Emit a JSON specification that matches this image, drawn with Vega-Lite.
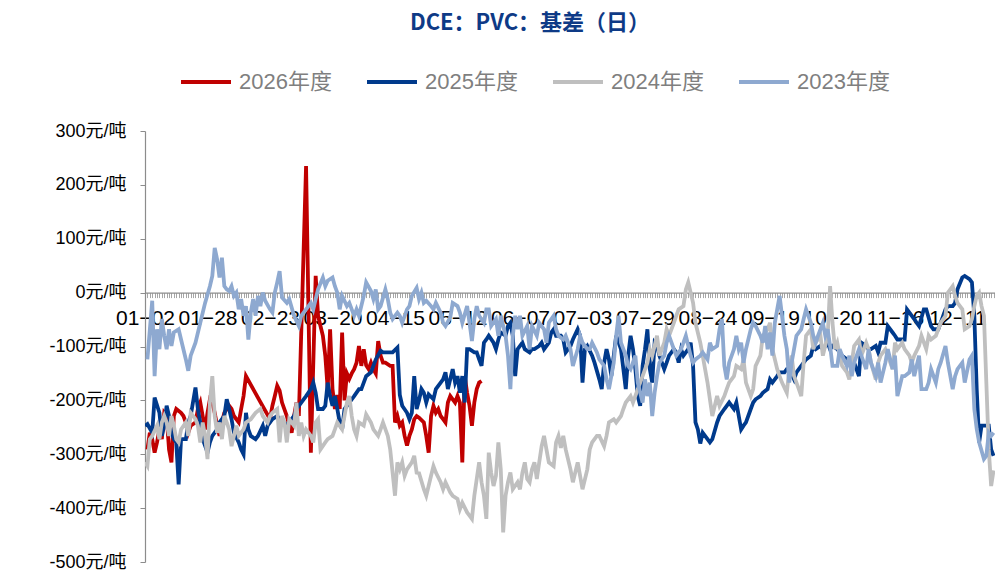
{
"$schema":"https://vega.github.io/schema/vega-lite/v6.json",
"width":850,"height":431,
"autosize":{"type":"none"},
"padding":{"left":145,"top":131,"right":0,"bottom":11},
"background":"white",
"title":{"text":"DCE：PVC：基差（日）","color":"#0E3A86","fontSize":22,"font":"Noto Sans CJK SC","fontWeight":"bold","anchor":"middle","frame":"group","dx":-40,"offset":20},
"config":{"view":{"stroke":null},"font":"Liberation Sans, Noto Sans CJK SC"},
"data":{"values":[
{"s":"2026年度","i":1,"v":-291},{"s":"2026年度","i":2,"v":-260},{"s":"2026年度","i":3,"v":-272},{"s":"2026年度","i":4,"v":-297},{"s":"2026年度","i":5,"v":-278},{"s":"2026年度","i":6,"v":-254},{"s":"2026年度","i":7,"v":-272},{"s":"2026年度","i":8,"v":-223},{"s":"2026年度","i":9,"v":-229},{"s":"2026年度","i":10,"v":-291},{"s":"2026年度","i":11,"v":-315},{"s":"2026年度","i":12,"v":-229},{"s":"2026年度","i":13,"v":-216},{"s":"2026年度","i":15,"v":-223},{"s":"2026年度","i":16,"v":-229},{"s":"2026年度","i":17,"v":-241},{"s":"2026年度","i":18,"v":-260},{"s":"2026年度","i":19,"v":-247},{"s":"2026年度","i":21,"v":-241},{"s":"2026年度","i":22,"v":-216},{"s":"2026年度","i":23,"v":-204},{"s":"2026年度","i":24,"v":-229},{"s":"2026年度","i":25,"v":-254},{"s":"2026年度","i":26,"v":-223},{"s":"2026年度","i":27,"v":-198},{"s":"2026年度","i":28,"v":-204},{"s":"2026年度","i":29,"v":-223},{"s":"2026年度","i":30,"v":-247},{"s":"2026年度","i":31,"v":-266},{"s":"2026年度","i":32,"v":-241},{"s":"2026年度","i":33,"v":-223},{"s":"2026年度","i":35,"v":-210},{"s":"2026年度","i":36,"v":-216},{"s":"2026年度","i":37,"v":-229},{"s":"2026年度","i":39,"v":-241},{"s":"2026年度","i":40,"v":-216},{"s":"2026年度","i":41,"v":-192},{"s":"2026年度","i":42,"v":-155},{"s":"2026年度","i":52,"v":-235},{"s":"2026年度","i":53,"v":-210},{"s":"2026年度","i":54,"v":-192},{"s":"2026年度","i":55,"v":-173},{"s":"2026年度","i":56,"v":-182},{"s":"2026年度","i":57,"v":-204},{"s":"2026年度","i":59,"v":-229},{"s":"2026年度","i":60,"v":-247},{"s":"2026年度","i":61,"v":-260},{"s":"2026年度","i":62,"v":-229},{"s":"2026年度","i":63,"v":-204},{"s":"2026年度","i":64,"v":-229},{"s":"2026年度","i":67,"v":235},{"s":"2026年度","i":69,"v":-297},{"s":"2026年度","i":71,"v":31},{"s":"2026年度","i":72,"v":-43},{"s":"2026年度","i":73,"v":-62},{"s":"2026年度","i":74,"v":-80},{"s":"2026年度","i":75,"v":-117},{"s":"2026年度","i":76,"v":-179},{"s":"2026年度","i":77,"v":-68},{"s":"2026年度","i":78,"v":-179},{"s":"2026年度","i":79,"v":-216},{"s":"2026年度","i":80,"v":-190},{"s":"2026年度","i":81,"v":-216},{"s":"2026年度","i":82,"v":-74},{"s":"2026年度","i":83,"v":-200},{"s":"2026年度","i":84,"v":-150},{"s":"2026年度","i":85,"v":-160},{"s":"2026年度","i":86,"v":-150},{"s":"2026年度","i":87,"v":-142},{"s":"2026年度","i":88,"v":-130},{"s":"2026年度","i":89,"v":-99},{"s":"2026年度","i":90,"v":-136},{"s":"2026年度","i":91,"v":-105},{"s":"2026年度","i":92,"v":-135},{"s":"2026年度","i":93,"v":-142},{"s":"2026年度","i":94,"v":-130},{"s":"2026年度","i":95,"v":-142},{"s":"2026年度","i":96,"v":-150},{"s":"2026年度","i":97,"v":-90},{"s":"2026年度","i":98,"v":-117},{"s":"2026年度","i":99,"v":-130},{"s":"2026年度","i":100,"v":-130},{"s":"2026年度","i":102,"v":-136},{"s":"2026年度","i":103,"v":-136},{"s":"2026年度","i":104,"v":-241},{"s":"2026年度","i":105,"v":-229},{"s":"2026年度","i":106,"v":-247},{"s":"2026年度","i":107,"v":-241},{"s":"2026年度","i":108,"v":-266},{"s":"2026年度","i":109,"v":-284},{"s":"2026年度","i":110,"v":-266},{"s":"2026年度","i":111,"v":-254},{"s":"2026年度","i":112,"v":-235},{"s":"2026年度","i":113,"v":-229},{"s":"2026年度","i":114,"v":-232},{"s":"2026年度","i":116,"v":-241},{"s":"2026年度","i":117,"v":-266},{"s":"2026年度","i":118,"v":-297},{"s":"2026年度","i":119,"v":-229},{"s":"2026年度","i":120,"v":-210},{"s":"2026年度","i":121,"v":-223},{"s":"2026年度","i":122,"v":-216},{"s":"2026年度","i":123,"v":-229},{"s":"2026年度","i":124,"v":-235},{"s":"2026年度","i":125,"v":-241},{"s":"2026年度","i":126,"v":-204},{"s":"2026年度","i":127,"v":-192},{"s":"2026年度","i":128,"v":-198},{"s":"2026年度","i":129,"v":-204},{"s":"2026年度","i":130,"v":-192},{"s":"2026年度","i":131,"v":-204},{"s":"2026年度","i":132,"v":-315},{"s":"2026年度","i":133,"v":-155},{"s":"2026年度","i":134,"v":-186},{"s":"2026年度","i":135,"v":-210},{"s":"2026年度","i":136,"v":-247},{"s":"2026年度","i":137,"v":-204},{"s":"2026年度","i":138,"v":-179},{"s":"2026年度","i":139,"v":-167},{"s":"2026年度","i":140,"v":-164},
{"s":"2025年度","i":0,"v":-247},{"s":"2025年度","i":1,"v":-244},{"s":"2025年度","i":3,"v":-260},{"s":"2025年度","i":4,"v":-195},{"s":"2025年度","i":6,"v":-223},{"s":"2025年度","i":7,"v":-266},{"s":"2025年度","i":8,"v":-247},{"s":"2025年度","i":9,"v":-210},{"s":"2025年度","i":10,"v":-229},{"s":"2025年度","i":11,"v":-260},{"s":"2025年度","i":12,"v":-272},{"s":"2025年度","i":13,"v":-278},{"s":"2025年度","i":14,"v":-356},{"s":"2025年度","i":15,"v":-272},{"s":"2025年度","i":17,"v":-272},{"s":"2025年度","i":18,"v":-241},{"s":"2025年度","i":19,"v":-229},{"s":"2025年度","i":21,"v":-176},{"s":"2025年度","i":22,"v":-216},{"s":"2025年度","i":23,"v":-241},{"s":"2025年度","i":24,"v":-272},{"s":"2025年度","i":26,"v":-297},{"s":"2025年度","i":27,"v":-278},{"s":"2025年度","i":28,"v":-266},{"s":"2025年度","i":30,"v":-254},{"s":"2025年度","i":31,"v":-241},{"s":"2025年度","i":33,"v":-229},{"s":"2025年度","i":34,"v":-198},{"s":"2025年度","i":35,"v":-216},{"s":"2025年度","i":36,"v":-235},{"s":"2025年度","i":37,"v":-260},{"s":"2025年度","i":39,"v":-278},{"s":"2025年度","i":40,"v":-291},{"s":"2025年度","i":41,"v":-300},{"s":"2025年度","i":42,"v":-223},{"s":"2025年度","i":43,"v":-254},{"s":"2025年度","i":44,"v":-266},{"s":"2025年度","i":46,"v":-272},{"s":"2025年度","i":47,"v":-266},{"s":"2025年度","i":49,"v":-247},{"s":"2025年度","i":50,"v":-266},{"s":"2025年度","i":51,"v":-247},{"s":"2025年度","i":52,"v":-241},{"s":"2025年度","i":53,"v":-235},{"s":"2025年度","i":55,"v":-229},{"s":"2025年度","i":56,"v":-235},{"s":"2025年度","i":58,"v":-241},{"s":"2025年度","i":59,"v":-247},{"s":"2025年度","i":60,"v":-241},{"s":"2025年度","i":62,"v":-229},{"s":"2025年度","i":63,"v":-216},{"s":"2025年度","i":64,"v":-210},{"s":"2025年度","i":66,"v":-198},{"s":"2025年度","i":67,"v":-192},{"s":"2025年度","i":69,"v":-179},{"s":"2025年度","i":70,"v":-167},{"s":"2025年度","i":71,"v":-186},{"s":"2025年度","i":72,"v":-216},{"s":"2025年度","i":74,"v":-216},{"s":"2025年度","i":75,"v":-210},{"s":"2025年度","i":76,"v":-167},{"s":"2025年度","i":77,"v":-192},{"s":"2025年度","i":78,"v":-210},{"s":"2025年度","i":79,"v":-192},{"s":"2025年度","i":80,"v":-216},{"s":"2025年度","i":81,"v":-241},{"s":"2025年度","i":82,"v":-254},{"s":"2025年度","i":83,"v":-216},{"s":"2025年度","i":85,"v":-204},{"s":"2025年度","i":86,"v":-198},{"s":"2025年度","i":87,"v":-192},{"s":"2025年度","i":89,"v":-179},{"s":"2025年度","i":90,"v":-179},{"s":"2025年度","i":91,"v":-167},{"s":"2025年度","i":92,"v":-155},{"s":"2025年度","i":94,"v":-148},{"s":"2025年度","i":95,"v":-136},{"s":"2025年度","i":96,"v":-124},{"s":"2025年度","i":98,"v":-108},{"s":"2025年度","i":99,"v":-111},{"s":"2025年度","i":100,"v":-111},{"s":"2025年度","i":102,"v":-111},{"s":"2025年度","i":103,"v":-111},{"s":"2025年度","i":105,"v":-102},{"s":"2025年度","i":106,"v":-190},{"s":"2025年度","i":107,"v":-210},{"s":"2025年度","i":109,"v":-223},{"s":"2025年度","i":110,"v":-235},{"s":"2025年度","i":111,"v":-223},{"s":"2025年度","i":112,"v":-155},{"s":"2025年度","i":113,"v":-216},{"s":"2025年度","i":114,"v":-200},{"s":"2025年度","i":115,"v":-179},{"s":"2025年度","i":116,"v":-186},{"s":"2025年度","i":117,"v":-204},{"s":"2025年度","i":118,"v":-189},{"s":"2025年度","i":120,"v":-198},{"s":"2025年度","i":121,"v":-179},{"s":"2025年度","i":123,"v":-167},{"s":"2025年度","i":124,"v":-161},{"s":"2025年度","i":125,"v":-148},{"s":"2025年度","i":126,"v":-179},{"s":"2025年度","i":128,"v":-142},{"s":"2025年度","i":129,"v":-167},{"s":"2025年度","i":130,"v":-155},{"s":"2025年度","i":131,"v":-186},{"s":"2025年度","i":132,"v":-155},{"s":"2025年度","i":133,"v":-204},{"s":"2025年度","i":134,"v":-105},{"s":"2025年度","i":135,"v":-105},{"s":"2025年度","i":137,"v":-111},{"s":"2025年度","i":138,"v":-111},{"s":"2025年度","i":139,"v":-124},{"s":"2025年度","i":140,"v":-136},{"s":"2025年度","i":141,"v":-93},{"s":"2025年度","i":142,"v":-87},{"s":"2025年度","i":143,"v":-80},{"s":"2025年度","i":145,"v":-93},{"s":"2025年度","i":146,"v":-105},{"s":"2025年度","i":147,"v":-87},{"s":"2025年度","i":148,"v":-74},{"s":"2025年度","i":150,"v":-80},{"s":"2025年度","i":151,"v":-62},{"s":"2025年度","i":152,"v":-56},{"s":"2025年度","i":153,"v":-80},{"s":"2025年度","i":154,"v":-155},{"s":"2025年度","i":155,"v":-105},{"s":"2025年度","i":157,"v":-93},{"s":"2025年度","i":158,"v":-105},{"s":"2025年度","i":160,"v":-111},{"s":"2025年度","i":161,"v":-105},{"s":"2025年度","i":162,"v":-105},{"s":"2025年度","i":164,"v":-99},{"s":"2025年度","i":165,"v":-93},{"s":"2025年度","i":166,"v":-105},{"s":"2025年度","i":168,"v":-93},{"s":"2025年度","i":169,"v":-74},{"s":"2025年度","i":170,"v":-68},{"s":"2025年度","i":171,"v":-80},{"s":"2025年度","i":173,"v":-80},{"s":"2025年度","i":174,"v":-87},{"s":"2025年度","i":175,"v":-111},{"s":"2025年度","i":177,"v":-99},{"s":"2025年度","i":178,"v":-87},{"s":"2025年度","i":180,"v":-68},{"s":"2025年度","i":181,"v":-80},{"s":"2025年度","i":182,"v":-167},{"s":"2025年度","i":183,"v":-105},{"s":"2025年度","i":184,"v":-99},{"s":"2025年度","i":186,"v":-117},{"s":"2025年度","i":187,"v":-130},{"s":"2025年度","i":189,"v":-161},{"s":"2025年度","i":190,"v":-179},{"s":"2025年度","i":191,"v":-130},{"s":"2025年度","i":192,"v":-105},{"s":"2025年度","i":193,"v":-124},{"s":"2025年度","i":194,"v":-155},{"s":"2025年度","i":195,"v":-117},{"s":"2025年度","i":196,"v":-80},{"s":"2025年度","i":198,"v":-105},{"s":"2025年度","i":199,"v":-142},{"s":"2025年度","i":200,"v":-179},{"s":"2025年度","i":201,"v":-117},{"s":"2025年度","i":202,"v":-80},{"s":"2025年度","i":203,"v":-105},{"s":"2025年度","i":204,"v":-142},{"s":"2025年度","i":205,"v":-192},{"s":"2025年度","i":206,"v":-210},{"s":"2025年度","i":207,"v":-136},{"s":"2025年度","i":208,"v":-105},{"s":"2025年度","i":209,"v":-68},{"s":"2025年度","i":210,"v":-142},{"s":"2025年度","i":211,"v":-167},{"s":"2025年度","i":212,"v":-93},{"s":"2025年度","i":213,"v":-99},{"s":"2025年度","i":214,"v":-117},{"s":"2025年度","i":216,"v":-142},{"s":"2025年度","i":217,"v":-130},{"s":"2025年度","i":218,"v":-117},{"s":"2025年度","i":220,"v":-105},{"s":"2025年度","i":221,"v":-111},{"s":"2025年度","i":222,"v":-130},{"s":"2025年度","i":223,"v":-105},{"s":"2025年度","i":224,"v":-117},{"s":"2025年度","i":226,"v":-105},{"s":"2025年度","i":227,"v":-93},{"s":"2025年度","i":228,"v":-136},{"s":"2025年度","i":229,"v":-241},{"s":"2025年度","i":230,"v":-254},{"s":"2025年度","i":231,"v":-280},{"s":"2025年度","i":232,"v":-260},{"s":"2025年度","i":234,"v":-272},{"s":"2025年度","i":235,"v":-278},{"s":"2025年度","i":236,"v":-272},{"s":"2025年度","i":238,"v":-241},{"s":"2025年度","i":239,"v":-229},{"s":"2025年度","i":241,"v":-216},{"s":"2025年度","i":242,"v":-210},{"s":"2025年度","i":243,"v":-204},{"s":"2025年度","i":245,"v":-216},{"s":"2025年度","i":246,"v":-204},{"s":"2025年度","i":248,"v":-254},{"s":"2025年度","i":249,"v":-247},{"s":"2025年度","i":250,"v":-241},{"s":"2025年度","i":252,"v":-216},{"s":"2025年度","i":253,"v":-204},{"s":"2025年度","i":254,"v":-198},{"s":"2025年度","i":256,"v":-192},{"s":"2025年度","i":257,"v":-186},{"s":"2025年度","i":259,"v":-179},{"s":"2025年度","i":260,"v":-161},{"s":"2025年度","i":261,"v":-167},{"s":"2025年度","i":263,"v":-155},{"s":"2025年度","i":264,"v":-148},{"s":"2025年度","i":266,"v":-148},{"s":"2025年度","i":267,"v":-142},{"s":"2025年度","i":268,"v":-142},{"s":"2025年度","i":270,"v":-161},{"s":"2025年度","i":271,"v":-148},{"s":"2025年度","i":273,"v":-136},{"s":"2025年度","i":274,"v":-130},{"s":"2025年度","i":275,"v":-124},{"s":"2025年度","i":277,"v":-117},{"s":"2025年度","i":278,"v":-99},{"s":"2025年度","i":279,"v":-105},{"s":"2025年度","i":281,"v":-99},{"s":"2025年度","i":282,"v":-105},{"s":"2025年度","i":284,"v":-93},{"s":"2025年度","i":285,"v":-105},{"s":"2025年度","i":286,"v":-99},{"s":"2025年度","i":288,"v":-105},{"s":"2025年度","i":289,"v":-111},{"s":"2025年度","i":290,"v":-117},{"s":"2025年度","i":292,"v":-124},{"s":"2025年度","i":293,"v":-130},{"s":"2025年度","i":294,"v":-142},{"s":"2025年度","i":295,"v":-130},{"s":"2025年度","i":297,"v":-155},{"s":"2025年度","i":298,"v":-93},{"s":"2025年度","i":300,"v":-99},{"s":"2025年度","i":301,"v":-105},{"s":"2025年度","i":302,"v":-105},{"s":"2025年度","i":304,"v":-99},{"s":"2025年度","i":305,"v":-111},{"s":"2025年度","i":306,"v":-93},{"s":"2025年度","i":308,"v":-93},{"s":"2025年度","i":309,"v":-62},{"s":"2025年度","i":311,"v":-74},{"s":"2025年度","i":312,"v":-80},{"s":"2025年度","i":313,"v":-87},{"s":"2025年度","i":315,"v":-87},{"s":"2025年度","i":316,"v":-87},{"s":"2025年度","i":317,"v":-31},{"s":"2025年度","i":318,"v":-37},{"s":"2025年度","i":320,"v":-49},{"s":"2025年度","i":321,"v":-56},{"s":"2025年度","i":322,"v":-62},{"s":"2025年度","i":324,"v":-31},{"s":"2025年度","i":325,"v":-31},{"s":"2025年度","i":327,"v":-62},{"s":"2025年度","i":328,"v":-68},{"s":"2025年度","i":330,"v":-68},{"s":"2025年度","i":331,"v":-56},{"s":"2025年度","i":333,"v":-31},{"s":"2025年度","i":334,"v":-25},{"s":"2025年度","i":336,"v":-25},{"s":"2025年度","i":337,"v":-19},{"s":"2025年度","i":338,"v":6},{"s":"2025年度","i":340,"v":28},{"s":"2025年度","i":341,"v":31},{"s":"2025年度","i":343,"v":25},{"s":"2025年度","i":344,"v":19},{"s":"2025年度","i":345,"v":-43},{"s":"2025年度","i":346,"v":-180},{"s":"2025年度","i":347,"v":-278},{"s":"2025年度","i":348,"v":-247},{"s":"2025年度","i":349,"v":-247},{"s":"2025年度","i":351,"v":-247},{"s":"2025年度","i":352,"v":-291},{"s":"2025年度","i":353,"v":-303},
{"s":"2024年度","i":0,"v":-315},{"s":"2024年度","i":1,"v":-322},{"s":"2024年度","i":2,"v":-272},{"s":"2024年度","i":3,"v":-266},{"s":"2024年度","i":5,"v":-247},{"s":"2024年度","i":6,"v":-272},{"s":"2024年度","i":7,"v":-241},{"s":"2024年度","i":8,"v":-229},{"s":"2024年度","i":9,"v":-241},{"s":"2024年度","i":10,"v":-266},{"s":"2024年度","i":11,"v":-229},{"s":"2024年度","i":12,"v":-247},{"s":"2024年度","i":13,"v":-272},{"s":"2024年度","i":14,"v":-278},{"s":"2024年度","i":15,"v":-254},{"s":"2024年度","i":17,"v":-241},{"s":"2024年度","i":18,"v":-266},{"s":"2024年度","i":19,"v":-223},{"s":"2024年度","i":21,"v":-235},{"s":"2024年度","i":22,"v":-247},{"s":"2024年度","i":23,"v":-278},{"s":"2024年度","i":24,"v":-241},{"s":"2024年度","i":25,"v":-266},{"s":"2024年度","i":26,"v":-309},{"s":"2024年度","i":27,"v":-204},{"s":"2024年度","i":28,"v":-155},{"s":"2024年度","i":29,"v":-229},{"s":"2024年度","i":30,"v":-260},{"s":"2024年度","i":31,"v":-241},{"s":"2024年度","i":32,"v":-272},{"s":"2024年度","i":33,"v":-229},{"s":"2024年度","i":34,"v":-241},{"s":"2024年度","i":35,"v":-254},{"s":"2024年度","i":36,"v":-285},{"s":"2024年度","i":37,"v":-266},{"s":"2024年度","i":38,"v":-247},{"s":"2024年度","i":39,"v":-266},{"s":"2024年度","i":41,"v":-254},{"s":"2024年度","i":42,"v":-241},{"s":"2024年度","i":44,"v":-235},{"s":"2024年度","i":45,"v":-229},{"s":"2024年度","i":46,"v":-223},{"s":"2024年度","i":48,"v":-216},{"s":"2024年度","i":49,"v":-229},{"s":"2024年度","i":51,"v":-241},{"s":"2024年度","i":52,"v":-229},{"s":"2024年度","i":53,"v":-223},{"s":"2024年度","i":55,"v":-216},{"s":"2024年度","i":56,"v":-278},{"s":"2024年度","i":57,"v":-229},{"s":"2024年度","i":58,"v":-241},{"s":"2024年度","i":59,"v":-278},{"s":"2024年度","i":60,"v":-235},{"s":"2024年度","i":62,"v":-247},{"s":"2024年度","i":63,"v":-204},{"s":"2024年度","i":64,"v":-266},{"s":"2024年度","i":65,"v":-241},{"s":"2024年度","i":66,"v":-266},{"s":"2024年度","i":67,"v":-254},{"s":"2024年度","i":69,"v":-266},{"s":"2024年度","i":70,"v":-278},{"s":"2024年度","i":71,"v":-241},{"s":"2024年度","i":72,"v":-235},{"s":"2024年度","i":73,"v":-291},{"s":"2024年度","i":75,"v":-278},{"s":"2024年度","i":76,"v":-272},{"s":"2024年度","i":78,"v":-266},{"s":"2024年度","i":79,"v":-254},{"s":"2024年度","i":80,"v":-241},{"s":"2024年度","i":82,"v":-254},{"s":"2024年度","i":83,"v":-229},{"s":"2024年度","i":84,"v":-204},{"s":"2024年度","i":85,"v":-192},{"s":"2024年度","i":86,"v":-229},{"s":"2024年度","i":87,"v":-254},{"s":"2024年度","i":88,"v":-266},{"s":"2024年度","i":89,"v":-241},{"s":"2024年度","i":91,"v":-247},{"s":"2024年度","i":92,"v":-226},{"s":"2024年度","i":94,"v":-241},{"s":"2024年度","i":95,"v":-254},{"s":"2024年度","i":97,"v":-266},{"s":"2024年度","i":98,"v":-254},{"s":"2024年度","i":99,"v":-241},{"s":"2024年度","i":101,"v":-266},{"s":"2024年度","i":102,"v":-291},{"s":"2024年度","i":103,"v":-334},{"s":"2024年度","i":104,"v":-377},{"s":"2024年度","i":105,"v":-315},{"s":"2024年度","i":106,"v":-328},{"s":"2024年度","i":107,"v":-315},{"s":"2024年度","i":108,"v":-340},{"s":"2024年度","i":109,"v":-328},{"s":"2024年度","i":111,"v":-315},{"s":"2024年度","i":112,"v":-303},{"s":"2024年度","i":113,"v":-334},{"s":"2024年度","i":114,"v":-335},{"s":"2024年度","i":116,"v":-365},{"s":"2024年度","i":117,"v":-377},{"s":"2024年度","i":119,"v":-340},{"s":"2024年度","i":120,"v":-322},{"s":"2024年度","i":121,"v":-334},{"s":"2024年度","i":123,"v":-352},{"s":"2024年度","i":124,"v":-365},{"s":"2024年度","i":125,"v":-352},{"s":"2024年度","i":127,"v":-371},{"s":"2024年度","i":128,"v":-377},{"s":"2024年度","i":130,"v":-383},{"s":"2024年度","i":131,"v":-402},{"s":"2024年度","i":132,"v":-390},{"s":"2024年度","i":134,"v":-408},{"s":"2024年度","i":135,"v":-414},{"s":"2024年度","i":136,"v":-420},{"s":"2024年度","i":137,"v":-377},{"s":"2024年度","i":138,"v":-346},{"s":"2024年度","i":139,"v":-315},{"s":"2024年度","i":140,"v":-352},{"s":"2024年度","i":141,"v":-377},{"s":"2024年度","i":142,"v":-420},{"s":"2024年度","i":143,"v":-297},{"s":"2024年度","i":144,"v":-334},{"s":"2024年度","i":145,"v":-359},{"s":"2024年度","i":146,"v":-340},{"s":"2024年度","i":147,"v":-278},{"s":"2024年度","i":148,"v":-328},{"s":"2024年度","i":149,"v":-445},{"s":"2024年度","i":150,"v":-377},{"s":"2024年度","i":151,"v":-352},{"s":"2024年度","i":152,"v":-334},{"s":"2024年度","i":153,"v":-365},{"s":"2024年度","i":155,"v":-352},{"s":"2024年度","i":156,"v":-365},{"s":"2024年度","i":157,"v":-334},{"s":"2024年度","i":158,"v":-315},{"s":"2024年度","i":159,"v":-346},{"s":"2024年度","i":160,"v":-352},{"s":"2024年度","i":161,"v":-328},{"s":"2024年度","i":162,"v":-315},{"s":"2024年度","i":163,"v":-346},{"s":"2024年度","i":164,"v":-315},{"s":"2024年度","i":165,"v":-285},{"s":"2024年度","i":166,"v":-266},{"s":"2024年度","i":167,"v":-291},{"s":"2024年度","i":168,"v":-315},{"s":"2024年度","i":170,"v":-322},{"s":"2024年度","i":171,"v":-278},{"s":"2024年度","i":172,"v":-266},{"s":"2024年度","i":173,"v":-288},{"s":"2024年度","i":174,"v":-266},{"s":"2024年度","i":175,"v":-291},{"s":"2024年度","i":177,"v":-328},{"s":"2024年度","i":178,"v":-352},{"s":"2024年度","i":180,"v":-315},{"s":"2024年度","i":181,"v":-340},{"s":"2024年度","i":182,"v":-365},{"s":"2024年度","i":184,"v":-328},{"s":"2024年度","i":185,"v":-291},{"s":"2024年度","i":186,"v":-278},{"s":"2024年度","i":188,"v":-266},{"s":"2024年度","i":189,"v":-266},{"s":"2024年度","i":191,"v":-285},{"s":"2024年度","i":192,"v":-266},{"s":"2024年度","i":193,"v":-241},{"s":"2024年度","i":195,"v":-235},{"s":"2024年度","i":196,"v":-241},{"s":"2024年度","i":198,"v":-229},{"s":"2024年度","i":199,"v":-216},{"s":"2024年度","i":200,"v":-204},{"s":"2024年度","i":202,"v":-192},{"s":"2024年度","i":203,"v":-204},{"s":"2024年度","i":205,"v":-179},{"s":"2024年度","i":206,"v":-167},{"s":"2024年度","i":207,"v":-155},{"s":"2024年度","i":209,"v":-130},{"s":"2024年度","i":210,"v":-105},{"s":"2024年度","i":211,"v":-117},{"s":"2024年度","i":213,"v":-80},{"s":"2024年度","i":214,"v":-117},{"s":"2024年度","i":216,"v":-93},{"s":"2024年度","i":217,"v":-68},{"s":"2024年度","i":218,"v":-80},{"s":"2024年度","i":220,"v":-56},{"s":"2024年度","i":221,"v":-43},{"s":"2024年度","i":222,"v":-31},{"s":"2024年度","i":224,"v":-25},{"s":"2024年度","i":225,"v":6},{"s":"2024年度","i":226,"v":19},{"s":"2024年度","i":227,"v":0},{"s":"2024年度","i":228,"v":-19},{"s":"2024年度","i":229,"v":-56},{"s":"2024年度","i":231,"v":-93},{"s":"2024年度","i":232,"v":-117},{"s":"2024年度","i":233,"v":-142},{"s":"2024年度","i":234,"v":-167},{"s":"2024年度","i":236,"v":-229},{"s":"2024年度","i":238,"v":-192},{"s":"2024年度","i":239,"v":-210},{"s":"2024年度","i":241,"v":-192},{"s":"2024年度","i":242,"v":-179},{"s":"2024年度","i":243,"v":-167},{"s":"2024年度","i":245,"v":-155},{"s":"2024年度","i":246,"v":-136},{"s":"2024年度","i":248,"v":-142},{"s":"2024年度","i":249,"v":-124},{"s":"2024年度","i":250,"v":-167},{"s":"2024年度","i":252,"v":-192},{"s":"2024年度","i":253,"v":-179},{"s":"2024年度","i":254,"v":-136},{"s":"2024年度","i":256,"v":-117},{"s":"2024年度","i":257,"v":-80},{"s":"2024年度","i":259,"v":-68},{"s":"2024年度","i":260,"v":-56},{"s":"2024年度","i":261,"v":-105},{"s":"2024年度","i":263,"v":-142},{"s":"2024年度","i":264,"v":-155},{"s":"2024年度","i":265,"v":-167},{"s":"2024年度","i":267,"v":-186},{"s":"2024年度","i":268,"v":-142},{"s":"2024年度","i":269,"v":-117},{"s":"2024年度","i":270,"v":-155},{"s":"2024年度","i":271,"v":-167},{"s":"2024年度","i":272,"v":-179},{"s":"2024年度","i":273,"v":-192},{"s":"2024年度","i":274,"v":-130},{"s":"2024年度","i":275,"v":-80},{"s":"2024年度","i":277,"v":-68},{"s":"2024年度","i":278,"v":-105},{"s":"2024年度","i":279,"v":-93},{"s":"2024年度","i":281,"v":-80},{"s":"2024年度","i":282,"v":-117},{"s":"2024年度","i":284,"v":-80},{"s":"2024年度","i":285,"v":12},{"s":"2024年度","i":286,"v":-56},{"s":"2024年度","i":287,"v":-105},{"s":"2024年度","i":288,"v":-93},{"s":"2024年度","i":289,"v":-117},{"s":"2024年度","i":290,"v":-136},{"s":"2024年度","i":292,"v":-148},{"s":"2024年度","i":293,"v":-161},{"s":"2024年度","i":294,"v":-130},{"s":"2024年度","i":295,"v":-99},{"s":"2024年度","i":297,"v":-87},{"s":"2024年度","i":298,"v":-117},{"s":"2024年度","i":300,"v":-93},{"s":"2024年度","i":301,"v":-105},{"s":"2024年度","i":302,"v":-130},{"s":"2024年度","i":304,"v":-161},{"s":"2024年度","i":305,"v":-130},{"s":"2024年度","i":306,"v":-117},{"s":"2024年度","i":308,"v":-105},{"s":"2024年度","i":309,"v":-117},{"s":"2024年度","i":311,"v":-142},{"s":"2024年度","i":312,"v":-93},{"s":"2024年度","i":313,"v":-105},{"s":"2024年度","i":315,"v":-93},{"s":"2024年度","i":316,"v":-105},{"s":"2024年度","i":318,"v":-117},{"s":"2024年度","i":319,"v":-130},{"s":"2024年度","i":320,"v":-117},{"s":"2024年度","i":322,"v":-99},{"s":"2024年度","i":323,"v":-80},{"s":"2024年度","i":325,"v":-105},{"s":"2024年度","i":326,"v":-80},{"s":"2024年度","i":327,"v":-87},{"s":"2024年度","i":329,"v":-80},{"s":"2024年度","i":330,"v":-68},{"s":"2024年度","i":331,"v":-56},{"s":"2024年度","i":333,"v":-43},{"s":"2024年度","i":334,"v":0},{"s":"2024年度","i":336,"v":12},{"s":"2024年度","i":337,"v":-6},{"s":"2024年度","i":338,"v":-19},{"s":"2024年度","i":340,"v":-31},{"s":"2024年度","i":341,"v":-68},{"s":"2024年度","i":343,"v":-62},{"s":"2024年度","i":344,"v":-49},{"s":"2024年度","i":345,"v":-25},{"s":"2024年度","i":346,"v":-6},{"s":"2024年度","i":347,"v":0},{"s":"2024年度","i":348,"v":-25},{"s":"2024年度","i":349,"v":-43},{"s":"2024年度","i":350,"v":-167},{"s":"2024年度","i":351,"v":-291},{"s":"2024年度","i":352,"v":-359},{"s":"2024年度","i":353,"v":-330},
{"s":"2023年度","i":1,"v":-124},{"s":"2023年度","i":3,"v":-15},{"s":"2023年度","i":4,"v":-155},{"s":"2023年度","i":5,"v":-68},{"s":"2023年度","i":6,"v":-105},{"s":"2023年度","i":7,"v":-49},{"s":"2023年度","i":8,"v":-80},{"s":"2023年度","i":9,"v":-105},{"s":"2023年度","i":10,"v":-68},{"s":"2023年度","i":11,"v":-99},{"s":"2023年度","i":12,"v":-74},{"s":"2023年度","i":14,"v":-68},{"s":"2023年度","i":15,"v":-87},{"s":"2023年度","i":17,"v":-124},{"s":"2023年度","i":18,"v":-145},{"s":"2023年度","i":19,"v":-117},{"s":"2023年度","i":21,"v":-93},{"s":"2023年度","i":23,"v":-56},{"s":"2023年度","i":25,"v":-19},{"s":"2023年度","i":27,"v":12},{"s":"2023年度","i":28,"v":31},{"s":"2023年度","i":29,"v":83},{"s":"2023年度","i":30,"v":62},{"s":"2023年度","i":31,"v":28},{"s":"2023年度","i":32,"v":65},{"s":"2023年度","i":33,"v":12},{"s":"2023年度","i":34,"v":6},{"s":"2023年度","i":35,"v":3},{"s":"2023年度","i":36,"v":12},{"s":"2023年度","i":37,"v":-6},{"s":"2023年度","i":38,"v":0},{"s":"2023年度","i":39,"v":-31},{"s":"2023年度","i":40,"v":-12},{"s":"2023年度","i":41,"v":-43},{"s":"2023年度","i":42,"v":-25},{"s":"2023年度","i":43,"v":-87},{"s":"2023年度","i":44,"v":-37},{"s":"2023年度","i":45,"v":-12},{"s":"2023年度","i":46,"v":-43},{"s":"2023年度","i":47,"v":-6},{"s":"2023年度","i":48,"v":-25},{"s":"2023年度","i":49,"v":0},{"s":"2023年度","i":50,"v":-15},{"s":"2023年度","i":52,"v":-31},{"s":"2023年度","i":53,"v":-37},{"s":"2023年度","i":54,"v":0},{"s":"2023年度","i":55,"v":19},{"s":"2023年度","i":56,"v":40},{"s":"2023年度","i":57,"v":-9},{"s":"2023年度","i":59,"v":-19},{"s":"2023年度","i":60,"v":-12},{"s":"2023年度","i":62,"v":-43},{"s":"2023年度","i":64,"v":-62},{"s":"2023年度","i":65,"v":-43},{"s":"2023年度","i":67,"v":-31},{"s":"2023年度","i":69,"v":-19},{"s":"2023年度","i":70,"v":-31},{"s":"2023年度","i":71,"v":-12},{"s":"2023年度","i":72,"v":6},{"s":"2023年度","i":74,"v":28},{"s":"2023年度","i":75,"v":12},{"s":"2023年度","i":76,"v":22},{"s":"2023年度","i":78,"v":28},{"s":"2023年度","i":79,"v":12},{"s":"2023年度","i":80,"v":0},{"s":"2023年度","i":81,"v":-31},{"s":"2023年度","i":82,"v":-6},{"s":"2023年度","i":84,"v":-25},{"s":"2023年度","i":85,"v":-19},{"s":"2023年度","i":87,"v":-43},{"s":"2023年度","i":88,"v":-31},{"s":"2023年度","i":89,"v":-43},{"s":"2023年度","i":91,"v":-6},{"s":"2023年度","i":92,"v":19},{"s":"2023年度","i":94,"v":3},{"s":"2023年度","i":95,"v":-12},{"s":"2023年度","i":96,"v":6},{"s":"2023年度","i":97,"v":-31},{"s":"2023年度","i":98,"v":-25},{"s":"2023年度","i":100,"v":6},{"s":"2023年度","i":101,"v":-12},{"s":"2023年度","i":102,"v":-37},{"s":"2023年度","i":103,"v":-49},{"s":"2023年度","i":105,"v":-37},{"s":"2023年度","i":106,"v":-43},{"s":"2023年度","i":107,"v":-56},{"s":"2023年度","i":109,"v":-31},{"s":"2023年度","i":110,"v":-25},{"s":"2023年度","i":111,"v":-6},{"s":"2023年度","i":113,"v":9},{"s":"2023年度","i":114,"v":-12},{"s":"2023年度","i":115,"v":0},{"s":"2023年度","i":116,"v":-19},{"s":"2023年度","i":117,"v":-15},{"s":"2023年度","i":119,"v":-25},{"s":"2023年度","i":120,"v":-31},{"s":"2023年度","i":121,"v":-19},{"s":"2023年度","i":123,"v":-37},{"s":"2023年度","i":124,"v":-56},{"s":"2023年度","i":125,"v":-62},{"s":"2023年度","i":127,"v":-46},{"s":"2023年度","i":128,"v":-19},{"s":"2023年度","i":130,"v":-25},{"s":"2023年度","i":131,"v":-37},{"s":"2023年度","i":132,"v":-56},{"s":"2023年度","i":134,"v":-25},{"s":"2023年度","i":135,"v":-56},{"s":"2023年度","i":136,"v":-90},{"s":"2023年度","i":137,"v":-49},{"s":"2023年度","i":138,"v":-25},{"s":"2023年度","i":139,"v":-43},{"s":"2023年度","i":141,"v":-56},{"s":"2023年度","i":142,"v":-31},{"s":"2023年度","i":143,"v":-31},{"s":"2023年度","i":144,"v":-62},{"s":"2023年度","i":146,"v":-49},{"s":"2023年度","i":147,"v":-80},{"s":"2023年度","i":148,"v":-43},{"s":"2023年度","i":150,"v":-80},{"s":"2023年度","i":151,"v":-117},{"s":"2023年度","i":152,"v":-179},{"s":"2023年度","i":153,"v":-80},{"s":"2023年度","i":154,"v":-43},{"s":"2023年度","i":155,"v":-68},{"s":"2023年度","i":156,"v":-43},{"s":"2023年度","i":157,"v":-80},{"s":"2023年度","i":159,"v":-62},{"s":"2023年度","i":160,"v":-105},{"s":"2023年度","i":161,"v":-62},{"s":"2023年度","i":163,"v":-80},{"s":"2023年度","i":164,"v":-56},{"s":"2023年度","i":166,"v":-68},{"s":"2023年度","i":167,"v":-93},{"s":"2023年度","i":168,"v":-56},{"s":"2023年度","i":170,"v":-43},{"s":"2023年度","i":171,"v":-68},{"s":"2023年度","i":172,"v":-80},{"s":"2023年度","i":174,"v":-87},{"s":"2023年度","i":175,"v":-80},{"s":"2023年度","i":177,"v":-105},{"s":"2023年度","i":178,"v":-136},{"s":"2023年度","i":180,"v":-105},{"s":"2023年度","i":181,"v":-80},{"s":"2023年度","i":182,"v":-93},{"s":"2023年度","i":184,"v":-105},{"s":"2023年度","i":185,"v":-105},{"s":"2023年度","i":186,"v":-93},{"s":"2023年度","i":188,"v":-111},{"s":"2023年度","i":189,"v":-124},{"s":"2023年度","i":191,"v":-136},{"s":"2023年度","i":192,"v":-161},{"s":"2023年度","i":193,"v":-179},{"s":"2023年度","i":195,"v":-130},{"s":"2023年度","i":196,"v":-80},{"s":"2023年度","i":197,"v":-43},{"s":"2023年度","i":198,"v":-93},{"s":"2023年度","i":200,"v":-117},{"s":"2023年度","i":201,"v":-136},{"s":"2023年度","i":202,"v":-142},{"s":"2023年度","i":204,"v":-117},{"s":"2023年度","i":205,"v":-167},{"s":"2023年度","i":207,"v":-204},{"s":"2023年度","i":208,"v":-161},{"s":"2023年度","i":209,"v":-192},{"s":"2023年度","i":210,"v":-167},{"s":"2023年度","i":211,"v":-229},{"s":"2023年度","i":212,"v":-186},{"s":"2023年度","i":213,"v":-155},{"s":"2023年度","i":214,"v":-130},{"s":"2023年度","i":216,"v":-117},{"s":"2023年度","i":217,"v":-93},{"s":"2023年度","i":218,"v":-80},{"s":"2023年度","i":220,"v":-105},{"s":"2023年度","i":221,"v":-117},{"s":"2023年度","i":223,"v":-105},{"s":"2023年度","i":224,"v":-93},{"s":"2023年度","i":225,"v":-80},{"s":"2023年度","i":227,"v":-117},{"s":"2023年度","i":228,"v":-130},{"s":"2023年度","i":229,"v":-124},{"s":"2023年度","i":231,"v":-117},{"s":"2023年度","i":232,"v":-111},{"s":"2023年度","i":234,"v":-124},{"s":"2023年度","i":235,"v":-93},{"s":"2023年度","i":236,"v":-105},{"s":"2023年度","i":238,"v":-99},{"s":"2023年度","i":239,"v":-68},{"s":"2023年度","i":240,"v":-49},{"s":"2023年度","i":241,"v":-136},{"s":"2023年度","i":242,"v":-161},{"s":"2023年度","i":243,"v":-130},{"s":"2023年度","i":245,"v":-105},{"s":"2023年度","i":246,"v":-80},{"s":"2023年度","i":247,"v":-105},{"s":"2023年度","i":248,"v":-93},{"s":"2023年度","i":249,"v":-130},{"s":"2023年度","i":250,"v":-105},{"s":"2023年度","i":252,"v":-68},{"s":"2023年度","i":253,"v":-56},{"s":"2023年度","i":254,"v":-62},{"s":"2023年度","i":256,"v":-80},{"s":"2023年度","i":257,"v":-93},{"s":"2023年度","i":258,"v":-62},{"s":"2023年度","i":259,"v":-105},{"s":"2023年度","i":260,"v":-74},{"s":"2023年度","i":261,"v":-117},{"s":"2023年度","i":262,"v":-56},{"s":"2023年度","i":263,"v":-31},{"s":"2023年度","i":264,"v":-6},{"s":"2023年度","i":265,"v":-43},{"s":"2023年度","i":266,"v":-80},{"s":"2023年度","i":267,"v":-105},{"s":"2023年度","i":268,"v":-167},{"s":"2023年度","i":269,"v":-130},{"s":"2023年度","i":270,"v":-105},{"s":"2023年度","i":271,"v":-80},{"s":"2023年度","i":273,"v":-68},{"s":"2023年度","i":274,"v":-49},{"s":"2023年度","i":275,"v":-31},{"s":"2023年度","i":277,"v":-56},{"s":"2023年度","i":278,"v":-80},{"s":"2023年度","i":279,"v":-93},{"s":"2023年度","i":280,"v":-80},{"s":"2023年度","i":282,"v":-56},{"s":"2023年度","i":283,"v":-80},{"s":"2023年度","i":284,"v":-68},{"s":"2023年度","i":285,"v":-99},{"s":"2023年度","i":286,"v":-136},{"s":"2023年度","i":288,"v":-136},{"s":"2023年度","i":289,"v":-105},{"s":"2023年度","i":290,"v":-117},{"s":"2023年度","i":292,"v":-136},{"s":"2023年度","i":293,"v":-117},{"s":"2023年度","i":294,"v":-155},{"s":"2023年度","i":295,"v":-130},{"s":"2023年度","i":297,"v":-105},{"s":"2023年度","i":298,"v":-117},{"s":"2023年度","i":300,"v":-142},{"s":"2023年度","i":301,"v":-105},{"s":"2023年度","i":302,"v":-130},{"s":"2023年度","i":304,"v":-155},{"s":"2023年度","i":305,"v":-130},{"s":"2023年度","i":306,"v":-167},{"s":"2023年度","i":308,"v":-130},{"s":"2023年度","i":309,"v":-105},{"s":"2023年度","i":311,"v":-142},{"s":"2023年度","i":312,"v":-117},{"s":"2023年度","i":313,"v":-192},{"s":"2023年度","i":315,"v":-155},{"s":"2023年度","i":316,"v":-155},{"s":"2023年度","i":318,"v":-148},{"s":"2023年度","i":319,"v":-124},{"s":"2023年度","i":320,"v":-155},{"s":"2023年度","i":322,"v":-117},{"s":"2023年度","i":323,"v":-179},{"s":"2023年度","i":325,"v":-179},{"s":"2023年度","i":326,"v":-167},{"s":"2023年度","i":327,"v":-142},{"s":"2023年度","i":329,"v":-167},{"s":"2023年度","i":330,"v":-142},{"s":"2023年度","i":331,"v":-130},{"s":"2023年度","i":333,"v":-99},{"s":"2023年度","i":334,"v":-130},{"s":"2023年度","i":336,"v":-179},{"s":"2023年度","i":337,"v":-155},{"s":"2023年度","i":338,"v":-142},{"s":"2023年度","i":340,"v":-130},{"s":"2023年度","i":341,"v":-167},{"s":"2023年度","i":343,"v":-124},{"s":"2023年度","i":344,"v":-117},{"s":"2023年度","i":345,"v":-216},{"s":"2023年度","i":346,"v":-253},{"s":"2023年度","i":347,"v":-278},{"s":"2023年度","i":349,"v":-309},{"s":"2023年度","i":350,"v":-303},{"s":"2023年度","i":351,"v":-260},{"s":"2023年度","i":352,"v":-266},{"s":"2023年度","i":353,"v":-260}
]},
"mark":{"type":"line","strokeWidth":3.8,"clip":true},
"encoding":{
"x":{"field":"i","type":"quantitative","scale":{"domain":[0,353.6],"nice":false,"zero":false},
"axis":{"title":null,"orient":"bottom","offset":-269.4,"tickCount":354,"labelExpr":"datum.value % 26 === 0 ? ['01−02','01−28','02−23','03−20','04−15','05−12','06−07','07−03','07−29','08−24','09−19','10−20','11−16','12−11'][datum.value/26] : ''","labelOverlap":false,"labelFlush":false,"labelBound":false,"grid":false,"domainColor":"#8c8c8c","domainWidth":1.2,"tickColor":"#a6a6a6","tickSize":5,"tickWidth":1,"labelFontSize":21,"labelColor":"#000000","labelPadding":10,"labelFont":"Liberation Sans"}},
"y":{"field":"v","type":"quantitative","scale":{"domain":[-500,300],"nice":false,"zero":false},
"axis":{"title":null,"values":[-500,-400,-300,-200,-100,0,100,200,300],"labelExpr":"datum.value + '元/吨'","grid":false,"domainColor":"#8c8c8c","domainWidth":1.2,"tickColor":"#8c8c8c","tickSize":5,"labelFontSize":18,"labelColor":"#000000","labelPadding":14}},
"color":{"field":"s","type":"nominal","scale":{"domain":["2026年度","2025年度","2024年度","2023年度"],"range":["#C00000","#003A8C","#BFBFBF","#8EA9D0"]},
"legend":{"title":null,"orient":"none","legendX":34,"legendY":-76,"direction":"horizontal","symbolType":"stroke","symbolSize":2500,"symbolStrokeWidth":4,"labelFontSize":22,"labelColor":"#7f7f7f","columnPadding":27,"labelOffset":6}}
}
}
